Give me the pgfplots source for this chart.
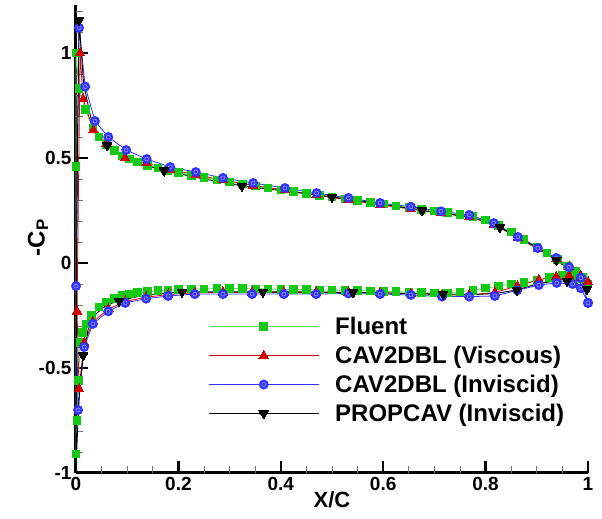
\documentclass[border=0pt]{standalone}
\usepackage{pgfplots}
\pgfplotsset{compat=1.18}
\usepackage{fontspec}
\setmainfont{Liberation Sans}
\definecolor{fgreen}{RGB}{20,200,20}
\definecolor{fgreenl}{RGB}{110,220,110}
\definecolor{vred}{RGB}{210,0,0}
\definecolor{iblue}{RGB}{50,50,255}
\pgfdeclareplotmark{bcirc}{%
  \pgfpathcircle{\pgfpointorigin}{\pgfplotmarksize}\pgfusepathqfill
  \pgfsetstrokecolor{blue!40!white}\pgfsetlinewidth{0.6pt}%
  \pgfpathcircle{\pgfpointorigin}{0.4\pgfplotmarksize}\pgfusepathqstroke}
\begin{document}
\begin{tikzpicture}
\begin{axis}[
  at={(0,0)}, anchor=south west,
  scale only axis, width=512pt, height=468.3pt,
  xmin=0, xmax=1, ymin=-1, ymax=1.23,
  clip=false,
  axis x line=bottom, axis y line=left,
  axis line style={-, line width=3pt, black},
  tick align=inside,
  xtick={0,0.2,0.4,0.6,0.8,1}, xticklabels={0,0.2,0.4,0.6,0.8,1},
  ytick={-1,-0.5,0,0.5,1}, yticklabels={-1,-0.5,0,0.5,1},
  major tick length=0pt,
  unbounded coords=jump,
  tick label style={font=\bfseries\fontsize{19}{19}\selectfont},
  xticklabel style={yshift=-1pt},
  yticklabel style={xshift=-1pt},
  xlabel={X/C},
  xlabel style={font=\bfseries\fontsize{22}{22}\selectfont, yshift=6pt},
  ylabel={-C\textsubscript{P}},
  ylabel style={at={(axis cs:0,0.12)}, anchor=center, yshift=38pt, font=\bfseries\fontsize{24}{24}\selectfont},
  legend image code/.code={\draw[mark repeat=2,mark phase=2,#1] plot coordinates {(0pt,0pt) (55pt,0pt) (110pt,0pt)};},
  legend style={draw=none, fill=none, at={(axis cs:0.258,-0.248)}, anchor=north west,
    font=\bfseries\fontsize{24}{24}\selectfont, row sep=6pt, inner sep=0pt,
    /tikz/every odd column/.append style={column sep=14pt}},
  legend cell align=left,
]
% inside ticks drawn as short axis segments
\addplot[forget plot, black, line width=2.4pt, no marks] coordinates {
(0.2,-1) (0.2,-0.943) (0.2,nan) (0.4,-1) (0.4,-0.943) (0.4,nan) (0.6,-1) (0.6,-0.943) (0.6,nan) (0.8,-1) (0.8,-0.943) (0.8,nan) (1,-1) (1,-0.943)};
\addplot[forget plot, black!55, line width=0.9pt, no marks] coordinates {
(0.05,-1) (0.05,-0.967) (0.05,nan) (0.1,-1) (0.1,-0.967) (0.1,nan) (0.15,-1) (0.15,-0.967) (0.15,nan)
(0.25,-1) (0.25,-0.967) (0.25,nan) (0.3,-1) (0.3,-0.967) (0.3,nan) (0.35,-1) (0.35,-0.967) (0.35,nan)
(0.45,-1) (0.45,-0.967) (0.45,nan) (0.5,-1) (0.5,-0.967) (0.5,nan) (0.55,-1) (0.55,-0.967) (0.55,nan)
(0.65,-1) (0.65,-0.967) (0.65,nan) (0.7,-1) (0.7,-0.967) (0.7,nan) (0.75,-1) (0.75,-0.967) (0.75,nan)
(0.85,-1) (0.85,-0.967) (0.85,nan) (0.9,-1) (0.9,-0.967) (0.9,nan) (0.95,-1) (0.95,-0.967)};
\addplot[forget plot, black, line width=2.4pt, no marks] coordinates {
(0,-0.5) (0.0234,-0.5) (nan,-0.5) (0,0) (0.0234,0) (nan,0) (0,0.5) (0.0234,0.5) (nan,0.5) (0,1) (0.0234,1)};
\addplot[forget plot, black!55, line width=0.9pt, no marks] coordinates {
(0,-0.9) (0.0137,-0.9) (nan,-0.9) (0,-0.8) (0.0137,-0.8) (nan,-0.8) (0,-0.7) (0.0137,-0.7) (nan,-0.7) (0,-0.6) (0.0137,-0.6) (nan,-0.6)
(0,-0.4) (0.0137,-0.4) (nan,-0.4) (0,-0.3) (0.0137,-0.3) (nan,-0.3) (0,-0.2) (0.0137,-0.2) (nan,-0.2) (0,-0.1) (0.0137,-0.1) (nan,-0.1)
(0,0.1) (0.0137,0.1) (nan,0.1) (0,0.2) (0.0137,0.2) (nan,0.2) (0,0.3) (0.0137,0.3) (nan,0.3) (0,0.4) (0.0137,0.4) (nan,0.4)
(0,0.6) (0.0137,0.6) (nan,0.6) (0,0.7) (0.0137,0.7) (nan,0.7) (0,0.8) (0.0137,0.8) (nan,0.8) (0,0.9) (0.0137,0.9) (nan,0.9)
(0,1.1) (0.0137,1.1) (nan,1.1) (0,1.2) (0.0137,1.2)};
% Fluent
\addplot[fgreenl, line width=0.9pt, mark=square*, mark size=3.8pt, mark options={fill=fgreen, draw=fgreen, line width=0pt}] coordinates {
(1.0,-0.1) (0.985,-0.075) (0.97,-0.06) (0.95,-0.057) (0.925,-0.068) (0.9,-0.082) (0.875,-0.092) (0.85,-0.1) (0.825,-0.11) (0.8,-0.12) (0.775,-0.13) (0.75,-0.138) (0.725,-0.142) (0.7,-0.143) (0.675,-0.141) (0.65,-0.139) (0.625,-0.137) (0.6,-0.135) (0.575,-0.133) (0.55,-0.131) (0.525,-0.13) (0.5,-0.129) (0.475,-0.128) (0.45,-0.127) (0.425,-0.126) (0.4,-0.125) (0.375,-0.124) (0.35,-0.123) (0.325,-0.122) (0.3,-0.122) (0.275,-0.122) (0.25,-0.123) (0.225,-0.124) (0.2,-0.126) (0.18,-0.129) (0.16,-0.132) (0.14,-0.136) (0.12,-0.141) (0.105,-0.147) (0.09,-0.155) (0.075,-0.168) (0.06,-0.185) (0.045,-0.21) (0.03,-0.25) (0.02,-0.29) (0.013,-0.33) (0.008,-0.38) (0.005,-0.56) (0.002,-0.75) (0.0,-0.91)
(0.0,0.46) (0.0,1.0) (0.006,0.83) (0.018,0.73) (0.033,0.64) (0.045,0.6) (0.06,0.565) (0.075,0.535) (0.09,0.51) (0.105,0.495) (0.12,0.48) (0.14,0.465) (0.16,0.452) (0.18,0.44) (0.2,0.43) (0.225,0.418) (0.25,0.407) (0.275,0.396) (0.3,0.386) (0.325,0.376) (0.35,0.367) (0.375,0.357) (0.4,0.348) (0.425,0.34) (0.45,0.331) (0.475,0.322) (0.5,0.314) (0.525,0.305) (0.55,0.297) (0.575,0.288) (0.6,0.28) (0.625,0.272) (0.65,0.264) (0.675,0.256) (0.7,0.248) (0.725,0.24) (0.75,0.231) (0.775,0.22) (0.8,0.205) (0.825,0.178) (0.85,0.147) (0.875,0.112) (0.9,0.077) (0.92,0.047) (0.94,0.018) (0.96,-0.015) (0.975,-0.04) (0.99,-0.07) (1.0,-0.1)
};
\addlegendentry{Fluent}
% CAV2DBL viscous
\addplot[vred, line width=0.8pt, mark=triangle*, mark size=5.5pt, mark options={fill=vred, draw=vred, line width=0pt}] coordinates {
(1.0,-0.09) (0.986,-0.07) (0.963,-0.06) (0.938,-0.065) (0.904,-0.08) (0.862,-0.11) (0.818,-0.14) (0.768,-0.152) (0.715,-0.152) (0.654,-0.146) (0.594,-0.142) (0.532,-0.14) (0.469,-0.14) (0.406,-0.14) (0.344,-0.14) (0.287,-0.14) (0.232,-0.142) (0.18,-0.15) (0.137,-0.163) (0.096,-0.183) (0.063,-0.22) (0.033,-0.28) (0.016,-0.38) (0.006,-0.6)
(0.002,-0.23) (0.008,1.0) (0.014,0.78) (0.034,0.633) (0.06,0.57) (0.096,0.5) (0.138,0.475) (0.184,0.445) (0.234,0.42) (0.287,0.395) (0.346,0.37) (0.408,0.347) (0.47,0.323) (0.532,0.3) (0.594,0.277) (0.654,0.257) (0.713,0.238) (0.768,0.22) (0.816,0.183) (0.863,0.12) (0.902,0.067) (0.938,0.02) (0.963,-0.02) (0.986,-0.06) (1.0,-0.09)
};
\addlegendentry{CAV2DBL (Viscous)}
% CAV2DBL inviscid
\addplot[iblue, line width=0.8pt, mark=bcirc, mark size=5pt, mark options={fill=iblue, draw=iblue}] coordinates {
(1.0,-0.19) (0.986,-0.12) (0.97,-0.1) (0.939,-0.095) (0.904,-0.105) (0.862,-0.13) (0.818,-0.157) (0.768,-0.16) (0.715,-0.16) (0.654,-0.152) (0.594,-0.148) (0.532,-0.145) (0.469,-0.148) (0.406,-0.148) (0.344,-0.148) (0.287,-0.148) (0.232,-0.148) (0.18,-0.157) (0.137,-0.17) (0.096,-0.19) (0.063,-0.23) (0.033,-0.29) (0.016,-0.4) (0.004,-0.7)
(0.0,-0.11) (0.006,1.12) (0.018,0.84) (0.037,0.676) (0.063,0.6) (0.098,0.538) (0.138,0.495) (0.184,0.457) (0.234,0.433) (0.287,0.405) (0.346,0.381) (0.408,0.357) (0.47,0.333) (0.532,0.31) (0.594,0.286) (0.654,0.268) (0.713,0.246) (0.768,0.229) (0.816,0.19) (0.863,0.124) (0.902,0.071) (0.938,0.024) (0.963,-0.02) (0.986,-0.07) (1.0,-0.19)
};
\addlegendentry{CAV2DBL (Inviscid)}
% PROPCAV line
\addplot[black, line width=0.9pt, forget plot] coordinates {
(0.998,-0.13) (0.98,-0.1) (0.959,-0.085) (0.93,-0.088) (0.9,-0.1) (0.861,-0.128) (0.82,-0.145) (0.78,-0.15) (0.717,-0.148) (0.65,-0.145) (0.6,-0.142) (0.541,-0.14) (0.45,-0.138) (0.365,-0.137) (0.3,-0.137) (0.207,-0.137) (0.15,-0.15) (0.12,-0.16) (0.084,-0.18) (0.06,-0.2) (0.04,-0.24) (0.025,-0.3) (0.014,-0.44) (0.007,-0.6) (0.003,-0.8) (0.0,-0.98)
(0.001,0.0) (0.003,0.6) (0.006,1.157) (0.015,0.85) (0.03,0.68) (0.045,0.6) (0.061,0.56) (0.09,0.51) (0.12,0.475) (0.172,0.44) (0.25,0.4) (0.324,0.367) (0.4,0.345) (0.5,0.315) (0.6,0.28) (0.676,0.25) (0.75,0.225) (0.8,0.2) (0.828,0.17) (0.87,0.115) (0.9,0.075) (0.938,0.015) (0.97,-0.045) (0.99,-0.09) (0.998,-0.12)
};
% PROPCAV markers
\addplot[black, only marks, mark=triangle*, mark size=5.5pt, mark options={rotate=180, fill=black, draw=black, line width=0pt},
  legend image code/.code={\draw[black, line width=0.9pt] (0pt,0pt) -- (110pt,0pt); \draw[black, mark=triangle*, mark size=5.5pt, mark options={rotate=180, fill=black, line width=0pt}] plot coordinates {(55pt,0pt)};}] coordinates {
(0.006,1.157) (0.061,0.56) (0.172,0.44) (0.324,0.367) (0.5,0.315) (0.676,0.25) (0.828,0.17) (0.938,0.015) (0.998,-0.125)
(0.959,-0.085) (0.861,-0.128) (0.717,-0.148) (0.541,-0.14) (0.365,-0.137) (0.207,-0.137) (0.084,-0.18) (0.014,-0.44)
};
\addlegendentry{PROPCAV (Inviscid)}
\end{axis}
\path[use as bounding box] (-76pt,-46pt) rectangle (526pt,473pt);
\end{tikzpicture}
\end{document}
